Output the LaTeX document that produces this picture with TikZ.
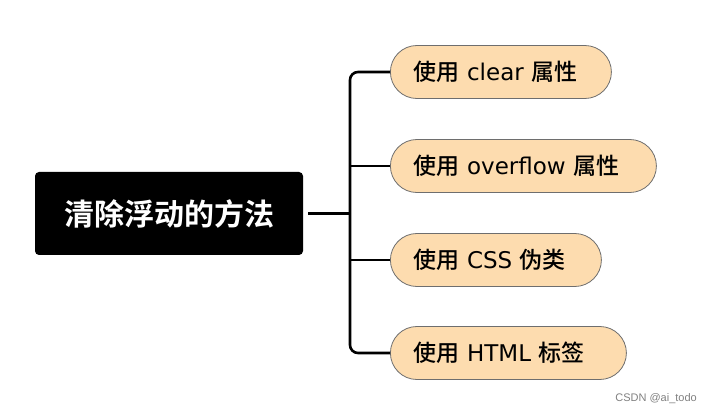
\documentclass[tikz,border=0pt]{standalone}
\usepackage{fontspec}
\newfontfamily\cjk{Noto Sans CJK SC}[BoldFont={Noto Sans CJK SC Bold}]
\newfontfamily\cjkmed{Noto Sans CJK SC Medium}
\newfontfamily\latw{DejaVu Sans}
\newfontfamily\wmfont{Liberation Sans}
\newcommand\latword[1]{{\latw\ #1\ }}
\definecolor{peach}{HTML}{FDDCAF}
\definecolor{edgegray}{HTML}{6E6E6E}
\begin{document}
\begin{tikzpicture}[x=1pt,y=1pt,
  rootbox/.style={fill=black, rounded corners=4pt, minimum width=268pt, minimum height=83pt,
    inner sep=0pt, text=white, font=\cjk\bfseries\fontsize{30}{35}\selectfont},
  leafbox/.style={fill=peach, draw=edgegray, line width=0.8pt, rounded corners=26.5pt,
    minimum height=53pt, inner xsep=23pt, inner ysep=0pt, align=left, anchor=west,
    font=\cjkmed\fontsize{23}{27}\selectfont},
  conn/.style={line width=2.6pt, draw=black}]
\useasboundingbox (0,0) rectangle (712,415);
\node[rootbox] (root) at (169,201.5) {清除浮动的方法};
\node[leafbox, text width=175pt] (b1) at (390,343) {使用\latword{clear}属性};
\node[leafbox, text width=220pt] (b2) at (390,249) {使用\latword{overflow}属性};
\node[leafbox, text width=165pt] (b3) at (390,155) {使用\latword{CSS}伪类};
\node[leafbox, text width=190pt] (b4) at (390,62) {使用\latword{HTML}标签};
\coordinate (trunk) at (350,201.5);
\draw[conn] ([xshift=5pt]root.east) -- (trunk);
\draw[conn, rounded corners=8pt] (b1.west) -| (trunk) |- (b4.west);
\draw[conn] (b2.west) -- (b2.west -| trunk);
\draw[conn] (b3.west) -- (b3.west -| trunk);
\node[anchor=east, text=gray, font=\wmfont\fontsize{11}{13}\selectfont, inner sep=0pt] (wm) at (697,16) {CSDN @ai\_todo};
\end{tikzpicture}
\end{document}
